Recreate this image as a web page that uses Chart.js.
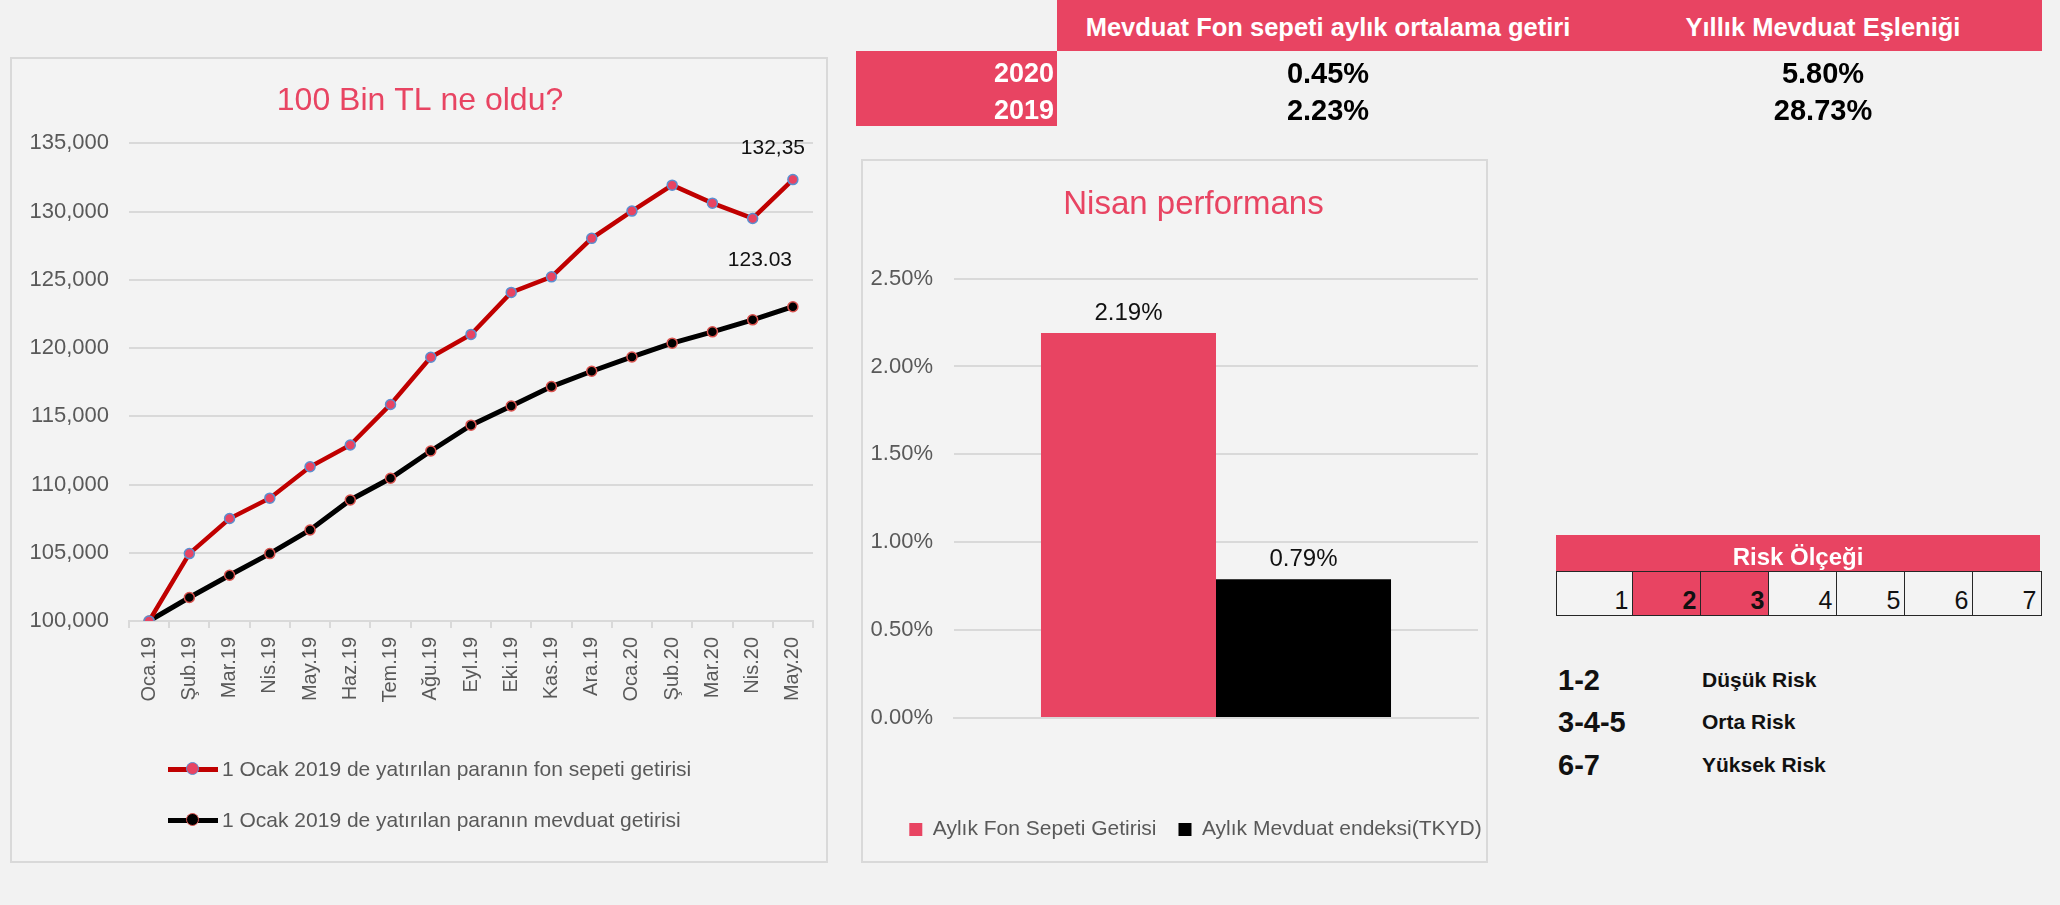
<!DOCTYPE html>
<html lang="tr">
<head>
<meta charset="utf-8">
<title>Fon sepeti</title>
<script src="https://cdn.jsdelivr.net/npm/chart.js@4.4.1/dist/chart.umd.min.js"></script>
<style>
    body {
        margin: 0;
        width: 2060px;
        height: 905px;
        background: #f2f2f2;
        position: relative;
        overflow: hidden;
        font-family: 'Liberation Sans', Arial, sans-serif;
    }
    .frame {
        position: absolute;
        box-sizing: border-box;
        border: 2px solid #d9d9d9;
        background: #f3f3f3;
    }
    canvas { position: absolute; }
    .txt {
        position: absolute;
        white-space: nowrap;
    }
    .block { position: absolute; background: #e84462; }
    .cell {
        position: absolute;
        box-sizing: border-box;
        border: 1.5px solid #262626;
        text-align: right;
        padding-right: 4px;
        font-size: 25px;
        line-height: 56px;
        color: #111;
    }
    .leg-row { position: absolute; height: 20px; }
    .leg-line { position: absolute; left: 0; top: 8px; width: 50px; height: 4.5px; }
    .leg-dot { position: absolute; left: 18px; top: 3px; width: 11px; height: 11px; border-radius: 50%; border: 1.5px solid; }
</style>
</head>
<body>

<div class="frame" style="left:10px; top:57px; width:818px; height:806px;"></div>
<canvas id="lineChart" width="818" height="806" style="left:10px; top:57px;"></canvas>

<div class="frame" style="left:861px; top:159px; width:627px; height:704px;"></div>
<canvas id="barChart" width="627" height="704" style="left:861px; top:159px;"></canvas>

<script>
// 100 Bin TL ne oldu?
const months = ['Oca.19', 'Şub.19', 'Mar.19', 'Nis.19', 'May.19', 'Haz.19', 'Tem.19', 'Ağu.19', 'Eyl.19',
    'Eki.19', 'Kas.19', 'Ara.19', 'Oca.20', 'Şub.20', 'Mar.20', 'Nis.20', 'May.20'];
const fonValues = [100000, 104940, 107510, 109000, 111300, 112900, 115870, 119330, 121000,
    124080, 125220, 128040, 130040, 131940, 130620, 129500, 132350];
const mevduatValues = [100000, 101720, 103350, 104940, 106670, 108870, 110460, 112460, 114350,
    115760, 117180, 118300, 119350, 120360, 121190, 122070, 123030];
const lineSeries = ['1 Ocak 2019 de yatırılan paranın fon sepeti getirisi',
    '1 Ocak 2019 de yatırılan paranın mevduat getirisi'];
const endLabels = ['132,35', '123.03'];
const lineTicks = [100000, 105000, 110000, 115000, 120000, 125000, 130000, 135000];

// Nisan performans
const barCategories = ['Nisan'];
const barSeries = ['Aylık Fon Sepeti Getirisi', 'Aylık Mevduat endeksi(TKYD)'];
const barValues = [2.19, 0.79];
const barTicks = [0, 0.5, 1, 1.5, 2, 2.5];

// top table
const tableHeaders = ['Mevduat Fon sepeti aylık ortalama getiri', 'Yıllık Mevduat Eşleniği'];
const tableYears = ['2020', '2019'];
const monthlyAverage = ['0.45%', '2.23%'];
const yearlyEquivalent = ['5.80%', '28.73%'];

// risk scale
const riskLevels = [1, 2, 3, 4, 5, 6, 7];
const fundRisk = [2, 3];
const riskGroups = ['1-2', '3-4-5', '6-7'];
const riskNames = ['Düşük Risk', 'Orta Risk', 'Yüksek Risk'];

const FONT = "'Liberation Sans', Arial, sans-serif";
const PINK = '#e84462';
const GRID = '#d9d9d9';
const AXIS_TEXT = '#595959';

function addText(txt, x, y, font, color, align) {
    const el = document.createElement('div');
    el.className = 'txt';
    el.textContent = txt;
    el.style.font = font;
    el.style.lineHeight = '40px';
    el.style.height = '40px';
    el.style.color = color;
    el.style.top = (y - 20) + 'px';
    if (align === 'center') {
        el.style.left = (x - 400) + 'px';
        el.style.width = '800px';
        el.style.textAlign = 'center';
    } else if (align === 'right') {
        el.style.left = (x - 800) + 'px';
        el.style.width = '800px';
        el.style.textAlign = 'right';
    } else {
        el.style.left = x + 'px';
    }
    document.body.appendChild(el);
    return el;
}

function addBlock(x, y, w, h) {
    const el = document.createElement('div');
    el.className = 'block';
    el.style.left = x + 'px';
    el.style.top = y + 'px';
    el.style.width = w + 'px';
    el.style.height = h + 'px';
    document.body.appendChild(el);
}

// labels next to the last point of each line
const endLabelPlugin = {
    id: 'endLabels',
    afterDatasetsDraw(chart) {
        const ctx = chart.ctx;
        const shifts = [[-20, -31], [-33, -47]];
        ctx.save();
        ctx.font = '21px ' + FONT;
        ctx.fillStyle = '#111';
        ctx.textAlign = 'center';
        ctx.textBaseline = 'middle';
        chart.data.datasets.forEach((ds, i) => {
            const pts = chart.getDatasetMeta(i).data;
            const last = pts[pts.length - 1];
            ctx.fillText(endLabels[i], last.x + shifts[i][0], last.y + shifts[i][1]);
        });
        ctx.restore();
    }
};

const barLabelPlugin = {
    id: 'barLabels',
    afterDatasetsDraw(chart) {
        const ctx = chart.ctx;
        ctx.save();
        ctx.font = '24px ' + FONT;
        ctx.fillStyle = '#111';
        ctx.textAlign = 'center';
        ctx.textBaseline = 'middle';
        chart.data.datasets.forEach((ds, i) => {
            chart.getDatasetMeta(i).data.forEach((bar, j) => {
                ctx.fillText(ds.data[j].toFixed(2) + '%', bar.x, bar.y - 20);
            });
        });
        ctx.restore();
    }
};

// the title and legend of the bar chart sit a little right of the plot centre
const boxShiftPlugin = {
    id: 'boxShift',
    afterLayout(chart, args, opts) {
        if (chart.titleBlock) {
            chart.titleBlock.left += opts.title;
            chart.titleBlock.right += opts.title;
        }
        if (chart.legend) {
            chart.legend.left += opts.legend;
            chart.legend.right += opts.legend;
        }
    }
};

const lineChart = new Chart(document.getElementById('lineChart'), {
    type: 'line',
    data: {
        labels: months,
        datasets: [
            {
                label: lineSeries[0],
                data: fonValues,
                borderColor: '#c00000',
                borderWidth: 4.5,
                pointRadius: 5,
                pointBorderWidth: 1.5,
                pointBackgroundColor: PINK,
                pointBorderColor: '#5b8fd0',
                tension: 0
            },
            {
                label: lineSeries[1],
                data: mevduatValues,
                borderColor: '#000000',
                borderWidth: 5,
                pointRadius: 5,
                pointBorderWidth: 1.5,
                pointBackgroundColor: '#000000',
                pointBorderColor: '#d9534f',
                tension: 0
            }
        ]
    },
    options: {
        responsive: false,
        animation: false,
        layout: { padding: { left: 17, right: 15, top: 0, bottom: 142 } },
        plugins: {
            legend: { display: false },
            tooltip: { enabled: false },
            title: {
                display: true,
                text: '100 Bin TL ne oldu?',
                color: PINK,
                font: { family: FONT, size: 32, weight: 'normal' },
                padding: { top: 25, bottom: 23 }
            }
        },
        scales: {
            x: {
                offset: true,
                grid: { offset: true, drawOnChartArea: false, tickLength: 7, color: GRID, lineWidth: 2 },
                border: { color: GRID, width: 2 },
                ticks: {
                    autoSkip: false,
                    minRotation: 90,
                    maxRotation: 90,
                    padding: 9,
                    color: AXIS_TEXT,
                    font: { family: FONT, size: 20 }
                },
                afterFit: scale => { scale.height = 100; }
            },
            y: {
                min: lineTicks[0],
                max: lineTicks[lineTicks.length - 1],
                afterBuildTicks: scale => { scale.ticks = lineTicks.map(v => ({ value: v })); },
                ticks: {
                    padding: 20,
                    color: AXIS_TEXT,
                    font: { family: FONT, size: 22 },
                    callback: v => v.toLocaleString('en-US')
                },
                grid: { color: GRID, lineWidth: 2, drawTicks: false },
                border: { display: false },
                afterFit: scale => { scale.width = 102; }
            }
        }
    },
    plugins: [endLabelPlugin]
});

// legend of the line chart, built from its datasets
lineChart.data.datasets.forEach((ds, i) => {
    const y = [769, 820][i];
    const row = document.createElement('div');
    row.className = 'leg-row';
    row.style.left = '168px';
    row.style.top = (y - 10) + 'px';
    row.innerHTML = '<div class="leg-line" style="background:' + ds.borderColor + '"></div>' +
        '<div class="leg-dot" style="background:' + ds.pointBackgroundColor + ';border-color:' + ds.pointBorderColor + '"></div>';
    document.body.appendChild(row);
    addText(ds.label, 222, y, '21px ' + FONT, AXIS_TEXT, 'left');
});

new Chart(document.getElementById('barChart'), {
    type: 'bar',
    data: {
        labels: barCategories,
        datasets: barSeries.map((name, i) => ({
            label: name,
            data: [barValues[i]],
            backgroundColor: i === 0 ? PINK : '#000000',
            barPercentage: 1,
            categoryPercentage: 0.668
        }))
    },
    options: {
        responsive: false,
        animation: false,
        layout: { padding: { left: 0, right: 10, top: 0, bottom: 13 } },
        plugins: {
            tooltip: { enabled: false },
            boxShift: { title: 24, legend: 26 },
            title: {
                display: true,
                text: 'Nisan performans',
                color: PINK,
                font: { family: FONT, size: 33, weight: 'normal' },
                padding: { top: 26, bottom: 54 }
            },
            legend: {
                position: 'bottom',
                labels: {
                    boxWidth: 13,
                    boxHeight: 13,
                    padding: 22,
                    color: AXIS_TEXT,
                    font: { family: FONT, size: 21 }
                }
            }
        },
        scales: {
            x: {
                ticks: { display: false },
                grid: { display: false },
                border: { color: GRID, width: 2 },
                afterFit: scale => { scale.height = 79; }
            },
            y: {
                min: barTicks[0],
                max: barTicks[barTicks.length - 1],
                afterBuildTicks: scale => { scale.ticks = barTicks.map(v => ({ value: v })); },
                ticks: {
                    padding: 21,
                    color: AXIS_TEXT,
                    font: { family: FONT, size: 22 },
                    callback: v => v.toFixed(2) + '%'
                },
                grid: { color: GRID, lineWidth: 2, drawTicks: false },
                border: { display: false },
                afterFit: scale => { scale.width = 93; }
            }
        }
    },
    plugins: [barLabelPlugin, boxShiftPlugin]
});

// top summary table
addBlock(1057, 0, 985, 51);
addBlock(856, 51, 201, 75);
const colCenters = [1328, 1823];
tableHeaders.forEach((h, i) => addText(h, colCenters[i], 27, 'bold 25.5px ' + FONT, '#ffffff', 'center'));
tableYears.forEach((yr, r) => {
    const y = [73, 110][r];
    addText(yr, 1054, y, 'bold 27px ' + FONT, '#ffffff', 'right');
    addText(monthlyAverage[r], colCenters[0], y, 'bold 29px ' + FONT, '#000000', 'center');
    addText(yearlyEquivalent[r], colCenters[1], y, 'bold 29px ' + FONT, '#000000', 'center');
});

// risk scale
addBlock(1556, 535, 484, 37);
addText('Risk Ölçeği', 1798, 557, 'bold 24px ' + FONT, '#ffffff', 'center');
const cellEdges = [1556, 1632, 1700, 1768, 1836, 1904, 1972, 2040];
riskLevels.forEach((lvl, i) => {
    const c = document.createElement('div');
    c.className = 'cell';
    c.textContent = lvl;
    c.style.left = cellEdges[i] + 'px';
    c.style.top = '571px';
    c.style.width = (cellEdges[i + 1] - cellEdges[i] + 1.5) + 'px';
    c.style.height = '45px';
    const own = fundRisk.includes(lvl);
    c.style.background = own ? PINK : '#f3f3f3';
    c.style.fontWeight = own ? 'bold' : 'normal';
    document.body.appendChild(c);
});
riskGroups.forEach((g, i) => {
    const y = [680, 722, 765][i];
    addText(g, 1558, y, 'bold 29px ' + FONT, '#111111', 'left');
    addText(riskNames[i], 1702, y, 'bold 21px ' + FONT, '#111111', 'left');
});
</script>
</body>
</html>
